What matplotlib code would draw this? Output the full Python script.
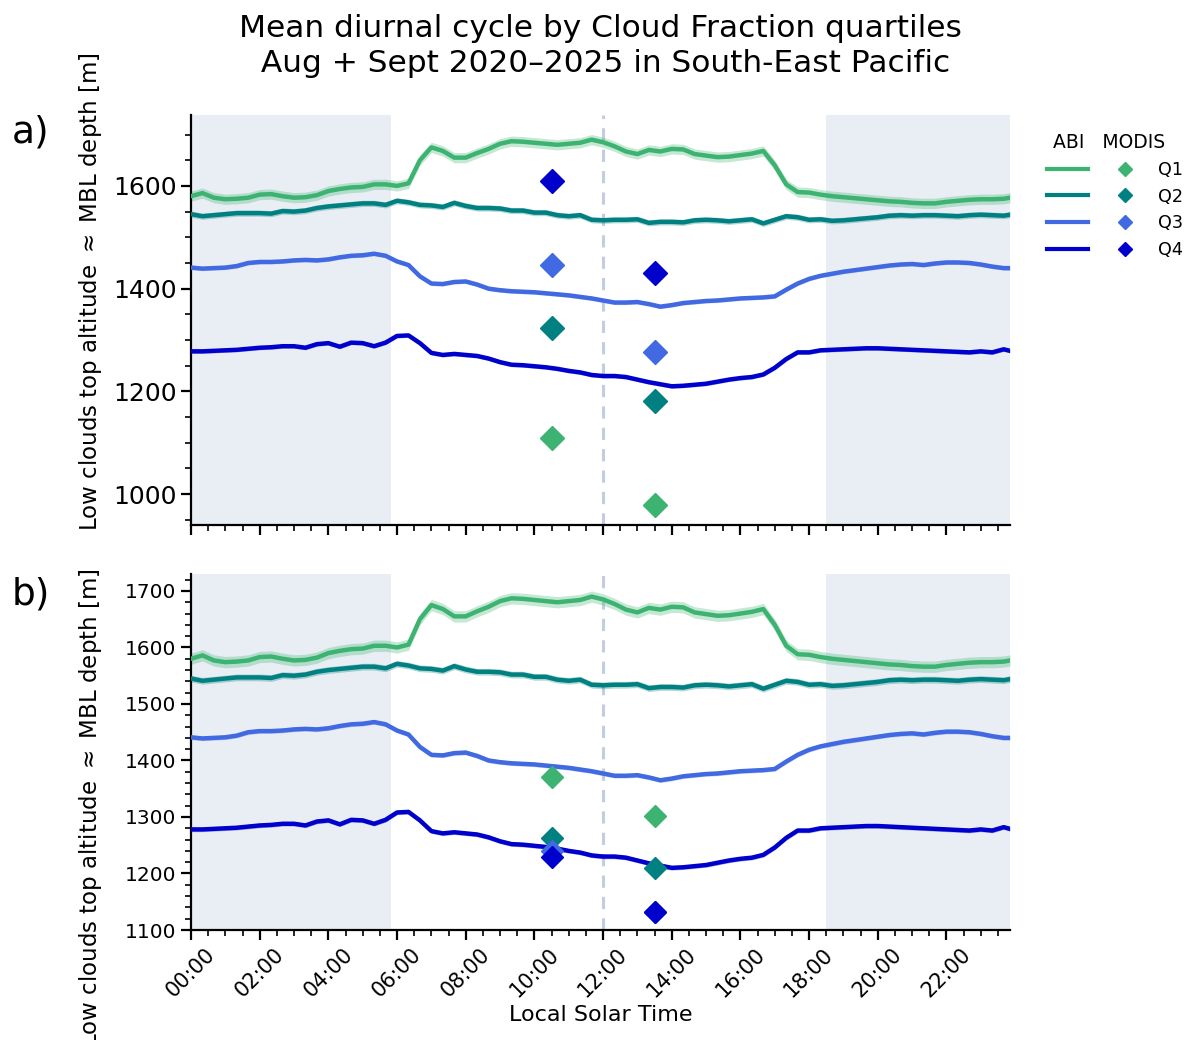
import numpy as np
import matplotlib
matplotlib.use("Agg")
import matplotlib.pyplot as plt
from matplotlib.lines import Line2D
from matplotlib.legend_handler import HandlerTuple
from matplotlib.ticker import AutoMinorLocator, MultipleLocator, FuncFormatter

# ABI mean diurnal cycle, 20-min steps (local solar time, hours)
hours = list(np.arange(0, 24, 1 / 3)) + [23.85]

q1 = [1580, 1586, 1577, 1574, 1575, 1577, 1583, 1584, 1580, 1577, 1578, 1582,
      1590, 1594, 1597, 1598, 1603, 1603, 1600, 1605, 1650, 1675, 1668, 1655,
      1655, 1664, 1672, 1682, 1687, 1686, 1684, 1682, 1680, 1682, 1684, 1690,
      1685, 1677, 1667, 1662, 1670, 1667, 1672, 1671, 1662, 1659, 1656, 1657,
      1660, 1663, 1668, 1640, 1603, 1588, 1587, 1583, 1580, 1578, 1576, 1574,
      1572, 1570, 1569, 1567, 1566, 1566, 1569, 1571, 1573, 1574, 1574, 1575, 1577]
q2 = [1545, 1541, 1543, 1545, 1547, 1547, 1547, 1546, 1551, 1550, 1552, 1557,
      1560, 1562, 1564, 1566, 1566, 1563, 1571, 1568, 1563, 1562, 1559, 1567,
      1561, 1557, 1557, 1556, 1552, 1552, 1548, 1548, 1543, 1541, 1543, 1534,
      1533, 1534, 1534, 1535, 1528, 1530, 1530, 1529, 1533, 1534, 1533, 1531,
      1533, 1535, 1527, 1534, 1541, 1539, 1534, 1535, 1532, 1533, 1535, 1537,
      1539, 1542, 1543, 1542, 1543, 1543, 1542, 1541, 1543, 1544, 1543, 1542, 1544]
q3 = [1441, 1439, 1440, 1441, 1444, 1450, 1452, 1452, 1453, 1455, 1456, 1455,
      1457, 1461, 1464, 1465, 1468, 1464, 1453, 1446, 1424, 1410, 1409, 1413,
      1414, 1408, 1400, 1397, 1395, 1394, 1393, 1391, 1389, 1387, 1384, 1381,
      1377, 1373, 1373, 1374, 1370, 1365, 1368, 1372, 1374, 1376, 1377, 1379,
      1381, 1382, 1383, 1385, 1398, 1410, 1419, 1425, 1429, 1433, 1436, 1439,
      1442, 1445, 1447, 1448, 1446, 1449, 1451, 1451, 1450, 1447, 1443, 1440, 1440]
q4 = [1278, 1278, 1279, 1280, 1281, 1283, 1285, 1286, 1288, 1288, 1285, 1292,
      1294, 1287, 1295, 1294, 1288, 1295, 1308, 1309, 1294, 1275, 1271, 1273,
      1271, 1269, 1264, 1257, 1252, 1251, 1249, 1247, 1244, 1240, 1237, 1232,
      1230, 1230, 1228, 1223, 1218, 1214, 1210, 1211, 1213, 1215, 1219, 1223,
      1226, 1228, 1233, 1246, 1263, 1276, 1276, 1280, 1281, 1282, 1283, 1284,
      1284, 1283, 1282, 1281, 1280, 1279, 1278, 1277, 1276, 1278, 1276, 1282, 1279]
ci = [10, 6, 4, 4]  # half width of the uncertainty band [m]

# MODIS overpasses (Terra 10:30, Aqua 13:30)
modis_t = [10.5, 13.5]
modis_a = {"Q1": [1110, 979], "Q2": [1323, 1182], "Q3": [1446, 1276], "Q4": [1610, 1431]}
modis_b = {"Q1": [1371, 1302], "Q2": [1263, 1209], "Q3": [1240, 1131], "Q4": [1229, 1131]}

quart = ["Q1", "Q2", "Q3", "Q4"]
colors = ["mediumseagreen", "teal", "royalblue", "mediumblue"]
sunrise, sunset = 5.83, 18.5

fig = plt.figure(figsize=(11.87, 10.4), dpi=100)
ax1 = fig.add_axes([191 / 1187, 1 - 525 / 1040, 819 / 1187, 410 / 1040])
ax2 = fig.add_axes([191 / 1187, 1 - 930 / 1040, 819 / 1187, 356 / 1040])

series = [q1, q2, q3, q4]
for ax, modis in [(ax1, modis_a), (ax2, modis_b)]:
    ax.axvspan(0, sunrise, color="lightsteelblue", alpha=0.28, lw=0, zorder=0)
    ax.axvspan(sunset, 24, color="lightsteelblue", alpha=0.28, lw=0, zorder=0)
    ax.axvline(12, color="#c3cde2", ls=(0, (4, 3)), lw=2.2, zorder=1)
    for s, c, w in zip(series, colors, ci):
        s = np.array(s)
        ax.fill_between(hours, s - w, s + w, color=c, alpha=0.3, lw=0, zorder=2)
        ax.plot(hours, s, color=c, lw=3.2, zorder=3)
    ms = 12.5 if ax is ax1 else 11
    for q, c in zip(quart, colors):
        ax.plot(modis_t, modis[q], ls="none", marker="D", ms=ms, color=c, zorder=4)

    ax.set_xlim(0, 23.85)
    ax.xaxis.set_major_locator(MultipleLocator(2))
    ax.xaxis.set_minor_locator(MultipleLocator(0.5))
    ax.yaxis.set_minor_locator(AutoMinorLocator())
    for sp in ["top", "right"]:
        ax.spines[sp].set_visible(False)
    for sp in ["left", "bottom"]:
        ax.spines[sp].set_linewidth(1.6)
    ax.tick_params(which="major", length=7, width=1.6)
    ax.tick_params(which="minor", length=4, width=1.2)
    ax.set_ylabel("Low clouds top altitude $\\approx$ MBL depth [m]", fontsize=16.5)

ax1.set_ylim(940, 1738)
ax1.set_yticks([1000, 1200, 1400, 1600])
ax1.tick_params(axis="y", labelsize=18)
ax1.tick_params(axis="x", labelbottom=False)
ax1.yaxis.set_label_coords(-0.106, 0.568)

ax2.set_ylim(1100, 1730)
ax2.set_yticks([1100, 1200, 1300, 1400, 1500, 1600, 1700])
ax2.tick_params(axis="y", labelsize=14.5)
ax2.tick_params(axis="x", labelsize=15, labelrotation=45)
ax2.xaxis.set_major_formatter(FuncFormatter(lambda v, p: "%02d:00" % int(round(v))))
ax2.set_xlabel("Local Solar Time", fontsize=16, labelpad=3)
ax2.yaxis.set_label_coords(-0.106, 0.343)

fig.text(0.026, 1 - 133 / 1040, "a)", fontsize=27, ha="center", va="center")
fig.text(0.026, 1 - 594 / 1040, "b)", fontsize=27, ha="center", va="center")
fig.text(0.506, 1 - 46 / 1040,
         "Mean diurnal cycle by Cloud Fraction quartiles\n Aug + Sept 2020\u20132025 in South-East Pacific",
         fontsize=22.5, ha="center", va="center", linespacing=1.22)

handles = [(Line2D([], [], color=c, lw=3),
            Line2D([], [], color=c, marker="D", ls="none", ms=7)) for c in colors]
leg = ax1.legend(handles, quart, handler_map={tuple: HandlerTuple(ndivide=None, pad=0.94)},
                 handlelength=5.6, handletextpad=0.7, labelspacing=0.5,
                 loc="upper left", bbox_to_anchor=(1.0256, 0.995), frameon=False,
                 title=" ABI   MODIS", title_fontsize=13.5, fontsize=12.7, alignment="left")

fig.savefig("out.png", dpi=100)
